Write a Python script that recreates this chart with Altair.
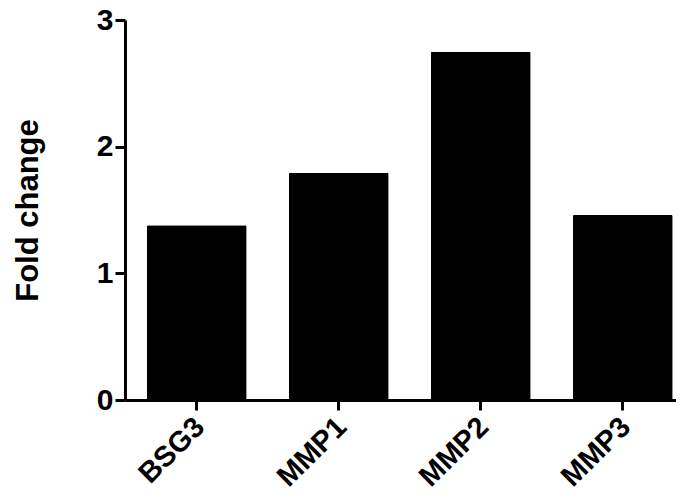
import altair as alt
import pandas as pd

genes = ["BSG3", "MMP1", "MMP2", "MMP3"]
fold_change = [1.38, 1.795, 2.75, 1.46]
y_ticks = [0, 1, 2, 3]

df = pd.DataFrame({"gene": genes, "fold": fold_change})

FONT = "Liberation Sans"

chart = (
    alt.Chart(df)
    .mark_bar(color="black", cornerRadius=1.5)
    .encode(
        x=alt.X(
            "gene:N",
            sort=genes,
            title=None,
            scale=alt.Scale(paddingInner=0.296, paddingOuter=0.088, align=0.87),
            axis=alt.Axis(
                labelAngle=-45,
                labelAlign="right",
                labelBaseline="middle",
                labelFont=FONT,
                labelFontWeight="bold",
                labelFontSize=29,
                labelColor="black",
                labelPadding=12,
                labelOffset=3,
                tickSize=10,
                tickWidth=3,
                tickColor="black",
                domainWidth=3,
                domainColor="black",
            ),
        ),
        y=alt.Y(
            "fold:Q",
            title="Fold change",
            scale=alt.Scale(domain=[0, 3], nice=False),
            axis=alt.Axis(
                values=y_ticks,
                grid=False,
                labelFont=FONT,
                labelFontWeight="bold",
                labelFontSize=30,
                labelColor="black",
                labelPadding=2,
                tickSize=10,
                tickWidth=3,
                tickColor="black",
                domainWidth=3,
                domainColor="black",
                titleFont=FONT,
                titleFontWeight="bold",
                titleFontSize=31,
                titleColor="black",
                titlePadding=52,
            ),
        ),
    )
    .properties(
        width=551,
        height=380,
        autosize=alt.AutoSizeParams(type="none"),
        padding={"left": 117, "top": 12, "right": 0, "bottom": 96},
    )
    .configure_view(stroke=None)
)

chart.save("out.html", embed_options={"renderer": "svg", "actions": False})
